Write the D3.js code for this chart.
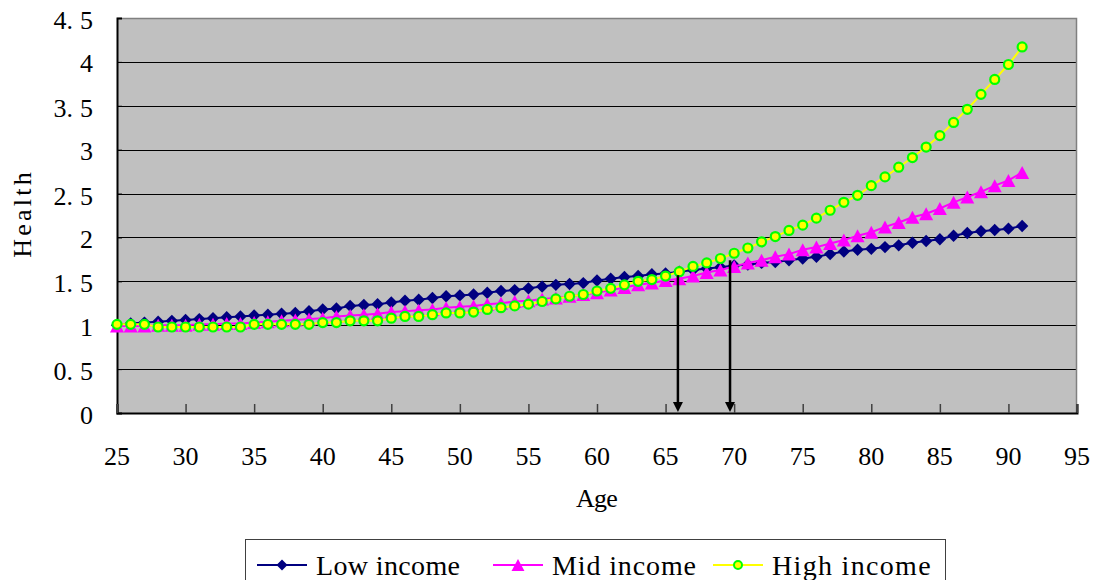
<!DOCTYPE html>
<html>
<head>
<meta charset="utf-8">
<script src="https://cdn.jsdelivr.net/npm/d3@7/dist/d3.min.js"></script>
<style>
  body { margin: 0; background: #fff; }
  svg text { font-family: "Liberation Serif", "DejaVu Serif", serif; fill: #000; }
</style>
</head>
<body>
<svg id="chart" width="1098" height="580"></svg>
<script>
// Ages on the horizontal axis
const ages = [25,26,27,28,29,30,31,32,33,34,35,36,37,38,39,40,41,42,43,44,45,46,47,48,49,50,
  51,52,53,54,55,56,57,58,59,60,61,62,63,64,65,66,67,68,69,70,71,72,73,74,75,76,77,78,79,80,
  81,82,83,84,85,86,87,88,89,90,91];

// Health index by income group
const lowIncome = [1.00,1.02,1.03,1.04,1.05,1.06,1.07,1.08,1.09,1.10,
  1.11,1.12,1.13,1.14,1.16,1.18,1.19,1.22,1.23,1.24,
  1.26,1.28,1.29,1.31,1.33,1.34,1.35,1.37,1.39,1.40,
  1.42,1.44,1.46,1.47,1.48,1.51,1.53,1.55,1.56,1.58,
  1.59,1.61,1.63,1.645,1.66,1.68,1.69,1.71,1.72,1.74,
  1.76,1.78,1.81,1.84,1.86,1.87,1.89,1.91,1.94,1.96,
  1.98,2.02,2.05,2.07,2.085,2.10,2.13];
const midIncome = [0.99,0.99,0.99,1.00,1.00,1.00,1.01,1.01,1.02,1.02,
  1.03,1.04,1.05,1.06,1.07,1.08,1.10,1.11,1.12,1.13,
  1.15,1.16,1.17,1.18,1.20,1.21,1.22,1.24,1.25,1.27,
  1.28,1.30,1.31,1.33,1.35,1.37,1.40,1.43,1.46,1.48,
  1.51,1.53,1.56,1.60,1.63,1.67,1.71,1.74,1.78,1.81,
  1.86,1.89,1.93,1.97,2.02,2.06,2.12,2.17,2.23,2.27,
  2.33,2.40,2.46,2.52,2.59,2.65,2.74];
const highIncome = [1.01,1.01,1.01,0.98,0.98,0.98,0.98,0.98,0.98,0.98,
  1.01,1.01,1.01,1.01,1.01,1.03,1.03,1.05,1.05,1.05,
  1.08,1.10,1.10,1.12,1.14,1.14,1.15,1.18,1.20,1.22,
  1.24,1.27,1.30,1.33,1.35,1.39,1.42,1.46,1.50,1.52,
  1.56,1.61,1.67,1.71,1.76,1.82,1.88,1.95,2.01,2.08,
  2.14,2.22,2.31,2.40,2.48,2.59,2.69,2.80,2.91,3.03,
  3.16,3.31,3.46,3.63,3.80,3.97,4.17];

const seriesNames = ["Low income", "Mid income", "High income"];
const xTicks = [25,30,35,40,45,50,55,60,65,70,75,80,85,90,95];
const yTicks = [0,0.5,1,1.5,2,2.5,3,3.5,4,4.5];

// Vertical arrows: age and the health level where each one starts
const arrowAges = [65.9, 69.7];
const arrowTops = [1.57, 1.74];

const svg = d3.select("#chart");
const plot = { left: 117, right: 1077, top: 18, bottom: 413 };

const x = d3.scaleLinear().domain([25, 95]).range([plot.left, plot.right]);
const y = d3.scaleLinear().domain([0, 4.5]).range([plot.bottom, plot.top]);

// Fixed-pitch looking text: longer strings are spread to a width of n equal cells
const CELL = 14.6;
function pitchText(parent, str, px, py, size, anchor) {
  const t = parent.append("text")
    .attr("x", px).attr("y", py)
    .attr("font-size", size)
    .attr("dominant-baseline", "central")
    .attr("text-anchor", anchor);
  if (str.includes(".")) {
    // decimal labels: the point hugs the integer part, a gap follows it
    const [a, b] = str.split(".");
    t.append("tspan").text(a + ".");
    t.append("tspan").attr("dx", 7).text(b);
  } else {
    t.text(str);
    if (str.length > 2) {
      t.attr("textLength", str.length * CELL - 2).attr("lengthAdjust", "spacing");
    }
  }
  return t;
}

// Plot background
svg.append("rect")
  .attr("x", plot.left).attr("y", plot.top)
  .attr("width", plot.right - plot.left).attr("height", plot.bottom - plot.top)
  .attr("fill", "#c0c0c0");

// Horizontal gridlines
svg.append("g").selectAll("line")
  .data(yTicks.filter(v => v > 0 && v < 4.5))
  .join("line")
  .attr("x1", plot.left).attr("x2", plot.right)
  .attr("y1", d => Math.round(y(d)) + 0.5).attr("y2", d => Math.round(y(d)) + 0.5)
  .attr("stroke", "#000").attr("stroke-width", 1);

// Frame: grey top/right, black axes left/bottom
svg.append("path")
  .attr("d", `M${plot.left},${plot.top + 0.5}H${plot.right - 0.5}V${plot.bottom}`)
  .attr("fill", "none").attr("stroke", "#808080").attr("stroke-width", 1.5);

// Y axis
const yAxis = d3.axisLeft(y).tickValues(yTicks).tickSize(-5).tickFormat("");
svg.append("g").attr("transform", `translate(${plot.left},0)`).call(yAxis)
  .call(g => g.select(".domain").attr("stroke", "#000").attr("stroke-width", 2))
  .call(g => g.selectAll(".tick line").attr("stroke", "#000"));

// X axis
const xAxis = d3.axisBottom(x).tickValues(xTicks).tickSize(-9).tickFormat("");
svg.append("g").attr("transform", `translate(0,${plot.bottom})`).call(xAxis)
  .call(g => g.select(".domain").attr("stroke", "#000").attr("stroke-width", 2))
  .call(g => g.selectAll(".tick line").attr("stroke", "#404040").attr("stroke-width", 1.5));

// Tick labels
const labels = svg.append("g");
yTicks.forEach(v => pitchText(labels, String(v), 93, y(v) + 2, 26, "end"));
xTicks.forEach(v => pitchText(labels, String(v), x(v), 456, 26, "middle"));

// Axis titles
pitchText(svg, "Age", 597, 498, 26, "middle");
const yTitle = svg.append("g").attr("transform", "translate(22,215) rotate(-90)");
pitchText(yTitle, "Health", 0, 0, 26, "middle");

// Marker shapes
const shapes = {
  diamond: s => `M0,${-s}L${s},0L0,${s}L${-s},0Z`,
  triangle: s => `M0,${-s}L${s * 1.08},${s}L${-s * 1.08},${s}Z`
};

const styles = [
  { values: lowIncome,  line: "#000080", marker: "diamond",  fill: "#000080", stroke: "none", size: 6.2 },
  { values: midIncome,  line: "#ff00ff", marker: "triangle", fill: "#ff00ff", stroke: "none", size: 6.5 },
  { values: highIncome, line: "#ffff00", marker: "circle",   fill: "#ffff00", stroke: "#00ff00", size: 4.5 }
];

const lineGen = d3.line().x(d => x(d.age)).y(d => y(d.v));

styles.forEach(s => {
  const pts = ages.map((a, i) => ({ age: a, v: s.values[i] }));
  const g = svg.append("g");
  g.append("path").datum(pts)
    .attr("d", lineGen)
    .attr("fill", "none").attr("stroke", s.line).attr("stroke-width", 2);
  if (s.marker === "circle") {
    g.selectAll("circle").data(pts).join("circle")
      .attr("cx", d => x(d.age)).attr("cy", d => y(d.v)).attr("r", s.size)
      .attr("fill", s.fill).attr("stroke", s.stroke).attr("stroke-width", 2.2);
  } else {
    g.selectAll("path.m").data(pts).join("path").attr("class", "m")
      .attr("transform", d => `translate(${x(d.age)},${y(d.v)})`)
      .attr("d", shapes[s.marker](s.size))
      .attr("fill", s.fill);
  }
});

// Arrows down to the age axis
const arrows = svg.append("g");
arrowAges.forEach((a, i) => {
  const ax = x(a);
  arrows.append("line")
    .attr("x1", ax).attr("x2", ax)
    .attr("y1", y(arrowTops[i])).attr("y2", plot.bottom - 8)
    .attr("stroke", "#000").attr("stroke-width", 2.5);
  arrows.append("path")
    .attr("d", `M${ax - 5},${plot.bottom - 11}L${ax + 5},${plot.bottom - 11}L${ax},${plot.bottom - 1}Z`)
    .attr("fill", "#000");
});

// Legend
const legend = svg.append("g");
legend.append("rect")
  .attr("x", 245.5).attr("y", 539.5).attr("width", 700).attr("height", 60)
  .attr("fill", "#fff").attr("stroke", "#404040").attr("stroke-width", 1);
const legendX = [257, 493, 713];
styles.forEach((s, i) => {
  const lx = legendX[i], ly = 565;
  legend.append("line").attr("x1", lx).attr("x2", lx + 50).attr("y1", ly).attr("y2", ly)
    .attr("stroke", s.line).attr("stroke-width", 2);
  if (s.marker === "circle") {
    legend.append("circle").attr("cx", lx + 25).attr("cy", ly).attr("r", 4)
      .attr("fill", s.fill).attr("stroke", s.stroke).attr("stroke-width", 2);
  } else {
    legend.append("path").attr("transform", `translate(${lx + 25},${ly})`)
      .attr("d", shapes[s.marker](s.marker === "diamond" ? 5.5 : 6)).attr("fill", s.fill);
  }
  pitchText(legend, seriesNames[i], lx + 59, ly, 28, "start");
});
</script>
</body>
</html>
